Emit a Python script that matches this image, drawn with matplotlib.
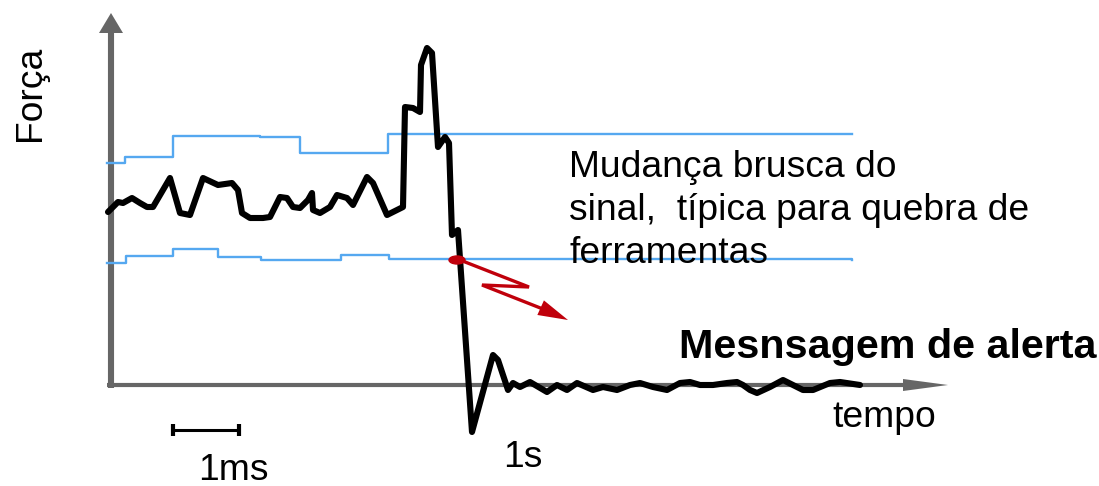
import numpy as np
import matplotlib
matplotlib.use("Agg")  # No display needed
import matplotlib.pyplot as plt
from matplotlib.patches import Polygon, Ellipse

plt.rcParams["font.family"] = ["Liberation Sans", "DejaVu Sans"]

# Force signal, traced in canvas pixel units (x right, y down)
signal_x = [108, 118, 123, 132, 140, 147, 153, 170, 180, 190, 203, 218, 232, 238,
            242, 250, 263, 270, 280, 287, 293, 300, 308, 312, 313, 320, 330, 337,
            347, 353, 367, 373, 387, 403, 405, 413, 420, 421, 427, 432, 438, 445,
            449, 452, 458, 472, 493, 498, 508, 513, 520, 530, 547, 557, 567, 577,
            593, 603, 617, 630, 640, 653, 667, 680, 690, 700, 713, 727, 737, 743,
            750, 757, 770, 783, 793, 803, 813, 830, 840, 860]
signal_y = [212, 202, 203, 198, 203, 207, 207, 178, 213, 215, 178, 185, 183, 190,
            213, 218, 218, 217, 197, 198, 207, 208, 200, 193, 210, 213, 207, 195,
            198, 205, 177, 183, 215, 207, 107, 108, 112, 65, 48, 53, 147, 137,
            143, 235, 230, 432, 355, 360, 390, 383, 387, 382, 392, 385, 390, 383,
            390, 387, 390, 385, 383, 387, 390, 383, 382, 385, 385, 383, 382, 385,
            390, 393, 387, 380, 385, 390, 390, 383, 382, 385]

# Upper / lower tolerance limits (step edges and levels)
upper_x = [107, 125, 173, 260, 300, 388, 852]
upper_y = [163, 157, 136, 137, 153, 134, 134]
lower_x = [107, 126, 173, 218, 261, 341, 389, 852]
lower_y = [263, 256, 249, 257, 260, 255, 259, 260]

# Alarm point and zigzag arrow
alarm_pt = (457, 260)
zigzag_x = [460, 529, 482, 548]
zigzag_y = [260, 287, 285, 311]
arrow_tip = (568, 320)

note_lines = ["Mudança brusca do", "sinal,  típica para quebra de", "ferramentas"]
note_baselines = [177, 220, 263]

AXIS_GRAY = "#666666"
BLUE = "#55a8f0"
RED = "#c0000b"

fig = plt.figure(figsize=(10.99, 4.86), dpi=100)
ax = fig.add_axes([0, 0, 1, 1])
ax.set_xlim(0, 1099)
ax.set_ylim(486, 0)
ax.axis("off")

# Axes with arrow heads
ax.plot([111, 111], [388, 30], color=AXIS_GRAY, lw=4.4, solid_capstyle="butt")
ax.add_patch(Polygon([(99, 33), (123, 33), (111, 13)], closed=True,
                     color=AXIS_GRAY, lw=0))
ax.plot([107, 905], [385, 385], color=AXIS_GRAY, lw=3.0, solid_capstyle="butt")
ax.add_patch(Polygon([(903, 379), (903, 391), (948, 385)], closed=True,
                     color=AXIS_GRAY, lw=0))

# Limit lines
ax.step(upper_x, upper_y, where="post", color=BLUE, lw=1.7)
ax.step(lower_x, lower_y, where="post", color=BLUE, lw=1.7)

# Signal
ax.plot(signal_x, signal_y, color="black", lw=4.4,
        solid_joinstyle="round", solid_capstyle="round", zorder=3)

# Alarm marker and zigzag arrow
ax.add_patch(Ellipse(alarm_pt, 16, 8, color=RED, zorder=4))
ax.plot(zigzag_x + [arrow_tip[0] - 12], zigzag_y + [arrow_tip[1] - 5],
        color=RED, lw=2.4, solid_joinstyle="miter", zorder=4)
dx, dy = arrow_tip[0] - zigzag_x[-1], arrow_tip[1] - zigzag_y[-1]
n = np.hypot(dx, dy)
ux, uy = dx / n, dy / n
hl, hw = 30, 8
base = (arrow_tip[0] - ux * hl, arrow_tip[1] - uy * hl)
ax.add_patch(Polygon([arrow_tip,
                      (base[0] - uy * hw, base[1] + ux * hw),
                      (base[0] + uy * hw, base[1] - ux * hw)],
                     closed=True, color=RED, lw=0, zorder=4))

# Time scale bar
ax.plot([172, 240], [430, 430], color="black", lw=2.2, solid_capstyle="butt")
for xb in (173, 239):
    ax.plot([xb, xb], [424, 436], color="black", lw=3.0, solid_capstyle="butt")

# Text
fs = 26.8
ax.text(40, 141, "Força", fontsize=fs, rotation=90, rotation_mode="anchor",
        ha="left", va="baseline")
ax.text(832, 427, "tempo", fontsize=fs, ha="left", va="baseline")
ax.text(198, 480, "1ms", fontsize=fs, ha="left", va="baseline")
ax.text(503, 467, "1s", fontsize=fs, ha="left", va="baseline")
for line, yb in zip(note_lines, note_baselines):
    ax.text(569, yb, line, fontsize=fs, ha="left", va="baseline")
ax.text(679, 358, "Mesnsagem de alerta", fontsize=29.7, fontweight="bold",
        ha="left", va="baseline")

fig.savefig("out.png", dpi=100)
